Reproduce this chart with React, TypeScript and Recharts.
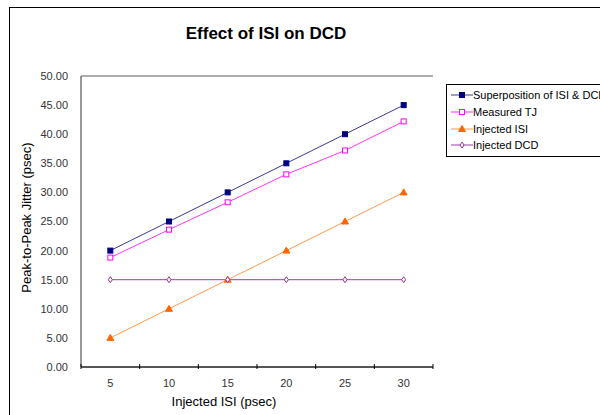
import React from 'react';
import { LineChart, Line, XAxis, YAxis, CartesianGrid } from 'recharts';

const isiValues = ['5', '10', '15', '20', '25', '30'];
const superposition = [20, 25, 30, 35, 40, 45];
const measuredTJ = [18.8, 23.6, 28.3, 33.1, 37.2, 42.2];
const injectedISI = [5, 10, 15, 20, 25, 30];
const injectedDCD = [15, 15, 15, 15, 15, 15];
const yTicks = [0, 5, 10, 15, 20, 25, 30, 35, 40, 45, 50];

const data = isiValues.map((isi, i) => ({
  isi,
  sup: superposition[i],
  tj: measuredTJ[i],
  isiJ: injectedISI[i],
  dcd: injectedDCD[i],
}));

const FONT = '"Liberation Sans", Arial, sans-serif';
const W = 600;
const H = 415;
const PLOT_LEFT = 81;
const PLOT_RIGHT = 433;
const PLOT_TOP = 76;
const PLOT_BOTTOM = 367;
const Y_AXIS_W = 60;
const X_AXIS_H = 30;
const halfBand = (PLOT_RIGHT - PLOT_LEFT) / isiValues.length / 2;

type Marker = 'square' | 'hollowSquare' | 'triangle' | 'diamond';

const drawMarker = (kind: Marker, cx: number, cy: number, color: string, key?: string) => {
  if (kind === 'square') {
    return <rect key={key} x={cx - 2.5} y={cy - 2.5} width={5} height={5} fill={color} stroke={color} />;
  }
  if (kind === 'hollowSquare') {
    return <rect key={key} x={cx - 2.5} y={cy - 2.5} width={5} height={5} fill="#fff" stroke={color} strokeWidth={1} />;
  }
  if (kind === 'triangle') {
    return <path key={key} d={`M${cx},${cy - 3.5} L${cx + 3.5},${cy + 2.5} L${cx - 3.5},${cy + 2.5} Z`} fill={color} stroke={color} />;
  }
  return <path key={key} d={`M${cx},${cy - 3} L${cx + 2},${cy} L${cx},${cy + 3} L${cx - 2},${cy} Z`} fill="#fff" stroke={color} strokeWidth={1} />;
};

const series = [
  { key: 'sup', name: 'Superposition of ISI & DCD', line: '#3a3a95', mark: '#000080', marker: 'square' as Marker },
  { key: 'tj', name: 'Measured TJ', line: '#ff33ff', mark: '#ff00ff', marker: 'hollowSquare' as Marker },
  { key: 'isiJ', name: 'Injected ISI', line: '#ff9950', mark: '#ff6600', marker: 'triangle' as Marker },
  { key: 'dcd', name: 'Injected DCD', line: '#a03cb0', mark: '#993399', marker: 'diamond' as Marker },
];

const XTick = (props: any) => {
  const { x, y, payload, index } = props;
  return (
    <g>
      <line x1={x - halfBand} x2={x - halfBand} y1={y - 11} y2={y - 6} stroke="#000" />
      {index === isiValues.length - 1 && (
        <line x1={x + halfBand} x2={x + halfBand} y1={y - 11} y2={y - 6} stroke="#000" />
      )}
      <text x={x} y={y + 12} textAnchor="middle" fontSize={11} fill="#333" fontFamily={FONT}>
        {payload.value}
      </text>
    </g>
  );
};

const LegendBox = () => (
  <div
    style={{
      position: 'absolute',
      left: 446,
      top: 84,
      border: '1px solid #000',
      background: '#fff',
      width: 170,
      height: 73,
      boxSizing: 'border-box',
      paddingTop: 2,
      fontFamily: FONT,
      fontSize: 11,
      color: '#000',
    }}
  >
    {series.map((s) => (
      <div key={s.key} style={{ display: 'flex', alignItems: 'center', height: 16.7, whiteSpace: 'nowrap' }}>
        <svg width={26} height={10} style={{ flex: 'none' }}>
          <line x1={4} x2={26} y1={5} y2={5} stroke={s.line} strokeWidth={1} />
          {drawMarker(s.marker, 15, 5, s.mark)}
        </svg>
        <span style={{ marginLeft: 0 }}>{s.name}</span>
      </div>
    ))}
  </div>
);

export default function App() {
  return (
    <div style={{ position: 'absolute', left: 0, top: 0, width: W, height: H, overflow: 'hidden', background: '#fff' }}>
      <div
        style={{
          position: 'absolute',
          left: 9,
          top: 7,
          width: W + 20,
          height: H + 20,
          border: '1px solid #000',
        }}
      />
      <div
        style={{
          position: 'absolute',
          left: 0,
          width: 532,
          top: 24,
          textAlign: 'center',
          fontFamily: FONT,
          fontWeight: 'bold',
          fontSize: 17,
        }}
      >
        Effect of ISI on DCD
      </div>
      <div style={{ position: 'absolute', left: 0, top: 0 }}>
        <LineChart
          width={W}
          height={H}
          data={data}
          margin={{ top: PLOT_TOP, right: W - PLOT_RIGHT, bottom: H - PLOT_BOTTOM - X_AXIS_H, left: PLOT_LEFT - Y_AXIS_W }}
        >
          <CartesianGrid horizontal vertical={false} stroke="#5a5a5a" />
          <XAxis
            dataKey="isi"
            type="category"
            height={X_AXIS_H}
            padding={{ left: halfBand, right: halfBand }}
            tickLine={false}
            axisLine={{ stroke: '#000' }}
            tick={<XTick />}
            interval={0}
            label={{
              content: ({ viewBox }: any) => (
                <text
                  x={viewBox.x + viewBox.width / 2 - 33}
                  y={viewBox.y + 39}
                  textAnchor="middle"
                  fontSize={13}
                  fontFamily={FONT}
                  fill="#000"
                >
                  Injected ISI (psec)
                </text>
              ),
            }}
          />
          <YAxis
            yAxisId="left"
            width={Y_AXIS_W}
            domain={[0, 50]}
            ticks={yTicks}
            tickLine={false}
            axisLine={{ stroke: '#333' }}
            tickFormatter={(v: number) => v.toFixed(2)}
            tick={{ fontSize: 11, fill: '#333', fontFamily: FONT }}
            tickMargin={7}
            label={{
              content: ({ viewBox }: any) => {
                const x = viewBox.x + 5;
                const y = viewBox.y + viewBox.height / 2 - 4;
                return (
                  <text
                    x={x}
                    y={y}
                    transform={`rotate(-90 ${x} ${y})`}
                    textAnchor="middle"
                    dominantBaseline="central"
                    fontSize={13}
                    fontFamily={FONT}
                    fill="#000"
                  >
                    Peak-to-Peak Jitter (psec)
                  </text>
                );
              },
            }}
          />
          <YAxis yAxisId="right" orientation="right" width={0} tick={false} tickLine={false} axisLine={{ stroke: '#5a5a5a' }} domain={[0, 50]} />
          {series.map((s) => (
            <Line
              key={s.key}
              yAxisId="left"
              type="linear"
              dataKey={s.key}
              name={s.name}
              stroke={s.line}
              strokeWidth={1}
              isAnimationActive={false}
              dot={(p: any) => drawMarker(s.marker, p.cx, p.cy, s.mark, `${s.key}-${p.index}`)}
              activeDot={false}
            />
          ))}
        </LineChart>
      </div>
      <LegendBox />
    </div>
  );
}
